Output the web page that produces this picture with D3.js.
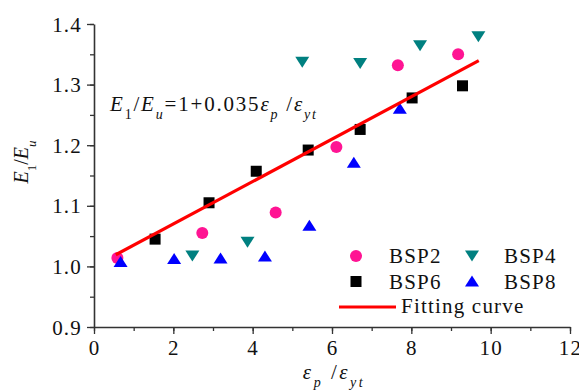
<!DOCTYPE html>
<html>
<head>
<meta charset="utf-8">
<script src="https://cdn.jsdelivr.net/npm/d3@7"></script>
<style>
  body { margin: 0; background: #fff; }
  svg text { font-family: "Liberation Serif", "Times New Roman", Times, serif; fill: #111; }
</style>
</head>
<body>
<svg id="chart" width="579" height="390"></svg>
<script>
// data
var bsp2X = [0.59, 2.73, 4.58, 6.11, 7.66, 9.18];
var bsp2Y = [1.014, 1.055, 1.089, 1.197, 1.332, 1.350];
var bsp4X = [2.48, 3.87, 5.25, 6.71, 8.22, 9.69];
var bsp4Y = [1.017, 1.040, 1.337, 1.335, 1.364, 1.379];
var bsp6X = [1.54, 2.90, 4.09, 5.40, 6.71, 8.02, 9.29];
var bsp6Y = [1.045, 1.105, 1.157, 1.192, 1.226, 1.278, 1.298];
var bsp8X = [0.67, 2.02, 3.19, 4.31, 5.43, 6.55, 7.71];
var bsp8Y = [1.008, 1.013, 1.014, 1.017, 1.068, 1.172, 1.261];
var fitX = [0.55, 9.7];
var fitSlope = 0.035;
var xTicks = [0, 2, 4, 6, 8, 10, 12];
var yTicks = [0.9, 1.0, 1.1, 1.2, 1.3, 1.4];

var svg = d3.select("#chart");
var x = d3.scaleLinear().domain([0, 12]).range([94, 570]);
var y = d3.scaleLinear().domain([0.9, 1.4]).range([327, 24]);

// minor ticks first so the major ones sit on top
svg.append("g")
  .attr("transform", "translate(0,327)")
  .call(d3.axisBottom(x).tickValues(d3.range(0, 13, 1)).tickSize(4).tickFormat(""))
  .call(g => g.select(".domain").remove());
svg.append("g")
  .attr("transform", "translate(94,0)")
  .call(d3.axisLeft(y).tickValues(d3.range(0.9, 1.401, 0.05)).tickSize(4).tickFormat(""))
  .call(g => g.select(".domain").remove());

var xAxis = svg.append("g")
  .attr("transform", "translate(0,327)")
  .call(d3.axisBottom(x).tickValues(xTicks).tickSize(7).tickSizeOuter(0).tickPadding(5).tickFormat(d3.format("d")));
var yAxis = svg.append("g")
  .attr("transform", "translate(94,0)")
  .call(d3.axisLeft(y).tickValues(yTicks).tickSize(7).tickSizeOuter(0).tickPadding(5).tickFormat(d3.format(".1f")));

svg.selectAll("g").attr("font-family", null);
svg.selectAll(".tick line").attr("stroke", "#333").attr("stroke-width", 1.3);
svg.selectAll(".domain").attr("stroke", "#333").attr("stroke-width", 1.6);
svg.selectAll(".tick text")
  .style("font-size", "21px")
  .style("letter-spacing", "1.2px")
  .attr("fill", "#111");
xAxis.selectAll(".tick text").attr("dy", "0.74em");
yAxis.selectAll(".tick text").attr("dy", "0.34em");

// markers
function tri(w, h, down) {
  var s = down ? -1 : 1;
  return "M0," + (-s * h / 2) + "L" + (w / 2) + "," + (s * h / 2) + "L" + (-w / 2) + "," + (s * h / 2) + "Z";
}
var plot = svg.append("g");

plot.selectAll(".bsp2").data(d3.zip(bsp2X, bsp2Y)).enter().append("circle")
  .attr("cx", d => x(d[0])).attr("cy", d => y(d[1])).attr("r", 6).attr("fill", "#FF1493");
plot.selectAll(".bsp4").data(d3.zip(bsp4X, bsp4Y)).enter().append("path")
  .attr("transform", d => "translate(" + x(d[0]) + "," + y(d[1]) + ")")
  .attr("d", tri(14, 11, true)).attr("fill", "#008080");
plot.selectAll(".bsp6").data(d3.zip(bsp6X, bsp6Y)).enter().append("rect")
  .attr("x", d => x(d[0]) - 5.5).attr("y", d => y(d[1]) - 5.5)
  .attr("width", 11).attr("height", 11).attr("fill", "#000");
plot.selectAll(".bsp8").data(d3.zip(bsp8X, bsp8Y)).enter().append("path")
  .attr("transform", d => "translate(" + x(d[0]) + "," + y(d[1]) + ")")
  .attr("d", tri(14, 11, false)).attr("fill", "#0000FF");

var line = d3.line().x(d => x(d)).y(d => y(1 + fitSlope * d));
plot.append("path").datum(fitX).attr("d", line)
  .attr("fill", "none").attr("stroke", "#FF0000").attr("stroke-width", 3.2);

// text with italic parts and subscripts
function rich(t, parts) {
  parts.forEach(function (p) {
    var ts = t.append("tspan").text(p[0]);
    if (p[1]) ts.attr("font-style", "italic");
    if (p[2]) ts.attr("dy", p[2]);
    if (p[3]) ts.style("font-size", p[3]);
  });
}
var sub = "14px";

// equation
var eq = svg.append("text").attr("x", 110).attr("y", 111)
  .style("font-size", "21px").style("letter-spacing", "1.8px");
rich(eq, [["E", 1], ["1", 0, 8, sub], ["/", 0, -8], ["E", 1], ["u", 1, 8, sub], ["=1+0.035", 0, -8],
  ["ε", 1], ["p", 1, 8, sub], [" /", 0, -8], ["ε", 1], ["yt", 1, 8, sub]]);

// axis titles
var xt = svg.append("text").attr("x", 334).attr("y", 379).attr("text-anchor", "middle")
  .style("font-size", "21px").style("letter-spacing", "2.5px");
rich(xt, [["ε", 1], ["p", 1, 8, sub], [" /", 0, -8], ["ε", 1], ["yt", 1, 8, sub]]);

var yt = svg.append("text").attr("transform", "translate(28,162) rotate(-90)")
  .attr("text-anchor", "middle").style("font-size", "20px");
rich(yt, [["E", 1], ["1", 0, 8, "13px"], ["/", 0, -8], ["E", 1], ["u", 1, 8, "13px"]]);

// legend
var leg = svg.append("g");
var legText = function (tx, ty, s) {
  leg.append("text").attr("x", tx).attr("y", ty).style("font-size", "21px")
    .style("letter-spacing", "1.2px").text(s);
};
leg.append("circle").attr("cx", 356).attr("cy", 256).attr("r", 6).attr("fill", "#FF1493");
legText(389, 263, "BSP2");
leg.append("path").attr("transform", "translate(472,256)").attr("d", tri(14, 11, true)).attr("fill", "#008080");
legText(504, 263, "BSP4");
leg.append("rect").attr("x", 350.5).attr("y", 276).attr("width", 11).attr("height", 11).attr("fill", "#000");
legText(389, 289, "BSP6");
leg.append("path").attr("transform", "translate(472,281)").attr("d", tri(14, 11, false)).attr("fill", "#0000FF");
legText(504, 289, "BSP8");
leg.append("line").attr("x1", 339).attr("x2", 396).attr("y1", 307).attr("y2", 307)
  .attr("stroke", "#FF0000").attr("stroke-width", 3.2);
legText(401, 313, "Fitting curve");
</script>
</body>
</html>
